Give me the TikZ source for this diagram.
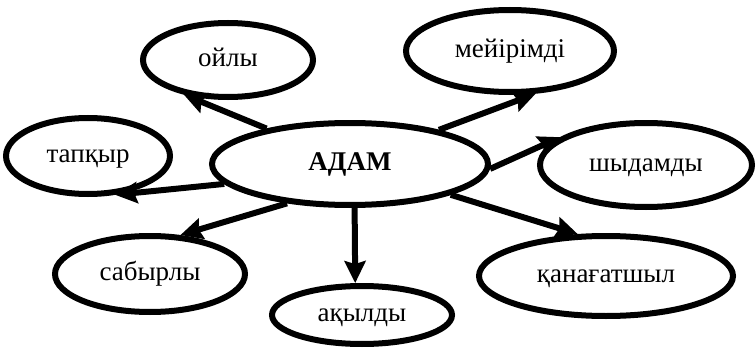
\documentclass[tikz,border=0pt]{standalone}
\usepackage{fontspec}
\setmainfont{Liberation Serif}
\usetikzlibrary{arrows.meta}
\usetikzlibrary{shapes.geometric}

\tikzset{
    oval/.style={ellipse,draw,line width=6pt,inner sep=0pt,text height=19pt,text depth=6.6pt,font=\fontsize{27}{31}\selectfont},
    link/.style={line width=6pt,-{Stealth[length=22pt,width=21pt,inset=3pt]}}
}

\begin{document}
\begin{tikzpicture}[x=1pt,y=1pt,every node/.style={black}]
    \useasboundingbox (0,0) rectangle (756,349);

    \node[oval,minimum width=276pt,minimum height=82pt] (adam) at (350,185) {\textbf{АДАМ}};

    \node[oval,minimum width=170pt,minimum height=74pt] (oily) at (228,289) {ойлы};
    \node[oval,minimum width=208pt,minimum height=82pt] (meyirimdi) at (510,298) {мейірімді};
    \node[oval,minimum width=164pt,minimum height=76pt] (tapqyr) at (88,193) {тапқыр};
    \node[oval,minimum width=212pt,minimum height=84pt] (shydamdy) at (646,184) {шыдамды};
    \node[oval,minimum width=190pt,minimum height=76pt] (sabyrly) at (150,75) {сабырлы};
    \node[oval,minimum width=180pt,minimum height=58pt] (aqyldy) at (362,34) {ақылды};
    \node[oval,minimum width=254pt,minimum height=80pt] (qanagatshyl) at (606,73) {қанағатшыл};

    % arrows out of the centre
    \draw[link] (adam.157) -- (oily.218);
    \draw[link] (adam.21) -- (meyirimdi.301);
    \draw[link] (adam.-2) -- (shydamdy.162);
    \draw[link] (adam.189) -- (tapqyr.305);
    \draw[link] (adam.212) -- (sabyrly.52);
    \draw[link] (adam.276) -- (aqyldy.102);
    \draw[link] (adam.343) -- (qanagatshyl.124);
\end{tikzpicture}
\end{document}
